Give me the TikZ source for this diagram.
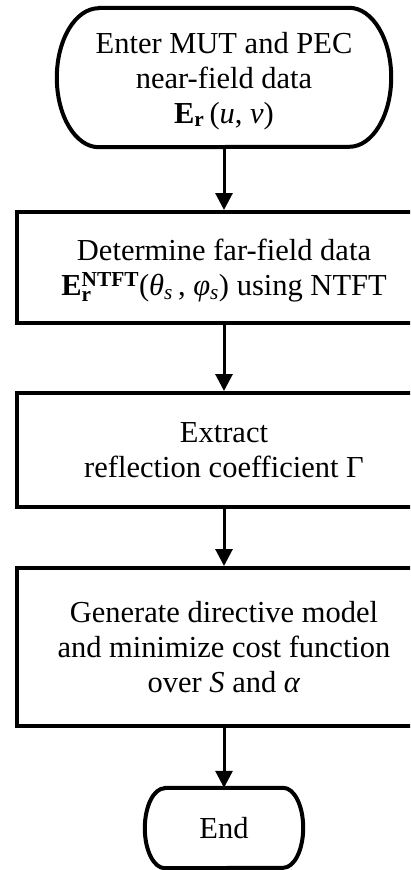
\documentclass[tikz,border=0pt]{standalone}
\usepackage{fontspec}
\setmainfont{Liberation Serif}
\usetikzlibrary{arrows.meta}
\begin{document}
\begin{tikzpicture}[x=1pt,y=1pt,
  txt/.style={align=center,font=\fontsize{30.5}{35}\selectfont,inner sep=0pt,text depth=0pt},
  procbox/.style={txt,draw,line width=4pt,minimum width=415pt},
  arr/.style={line width=3pt,-{Triangle[length=17pt,width=17pt]}},
  termline/.style={line width=4pt,line join=round}]
\useasboundingbox (0,0) rectangle (410,-870);
\clip (0,0) rectangle (410,-870);
\fill[white] (0,0) rectangle (410,-870);
% start terminator
\node[txt,minimum width=334pt,minimum height=139pt] (start) at (224,-77.5)
  {Enter MUT and PEC\\near-field data\\$\mathbf{E}_{\mathbf{r}}$\,(\textit{u}, \textit{v})};
\draw[termline] ([xshift=42pt]start.north west) -- ([xshift=-42pt]start.north east)
  arc[start angle=90,end angle=-90,x radius=42,y radius=69.5]
  -- ([xshift=42pt]start.south west)
  arc[start angle=270,end angle=90,x radius=42,y radius=69.5] -- cycle;
% process boxes
\node[procbox,minimum height=111pt] (s2) at (224,-267.5)
  {Determine far-field data\\$\mathbf{E}_{\mathbf{r}}^{\mathbf{NTFT}}$(\textit{θ}\textsubscript{\textit{s}}\,, \textit{φ}\textsubscript{\textit{s}}) using NTFT};
\node[procbox,minimum height=114pt] (s3) at (224,-450)
  {Extract\\reflection coefficient Γ};
\node[procbox,minimum height=158pt] (s4) at (224,-647)
  {Generate directive model\\and minimize cost function\\over \textit{S} and \textit{α}};
% end terminator
\node[txt,minimum width=158pt,minimum height=80pt] (end) at (224,-828) {End};
\draw[termline] ([xshift=20pt]end.north west) -- ([xshift=-20pt]end.north east)
  arc[start angle=90,end angle=-90,x radius=20,y radius=40]
  -- ([xshift=20pt]end.south west)
  arc[start angle=270,end angle=90,x radius=20,y radius=40] -- cycle;
% connectors
\draw[arr] (start.south) -- (s2.north);
\draw[arr] (s2.south) -- (s3.north);
\draw[arr] (s3.south) -- (s4.north);
\draw[arr] (s4.south) -- (end.north);
\end{tikzpicture}
\end{document}
